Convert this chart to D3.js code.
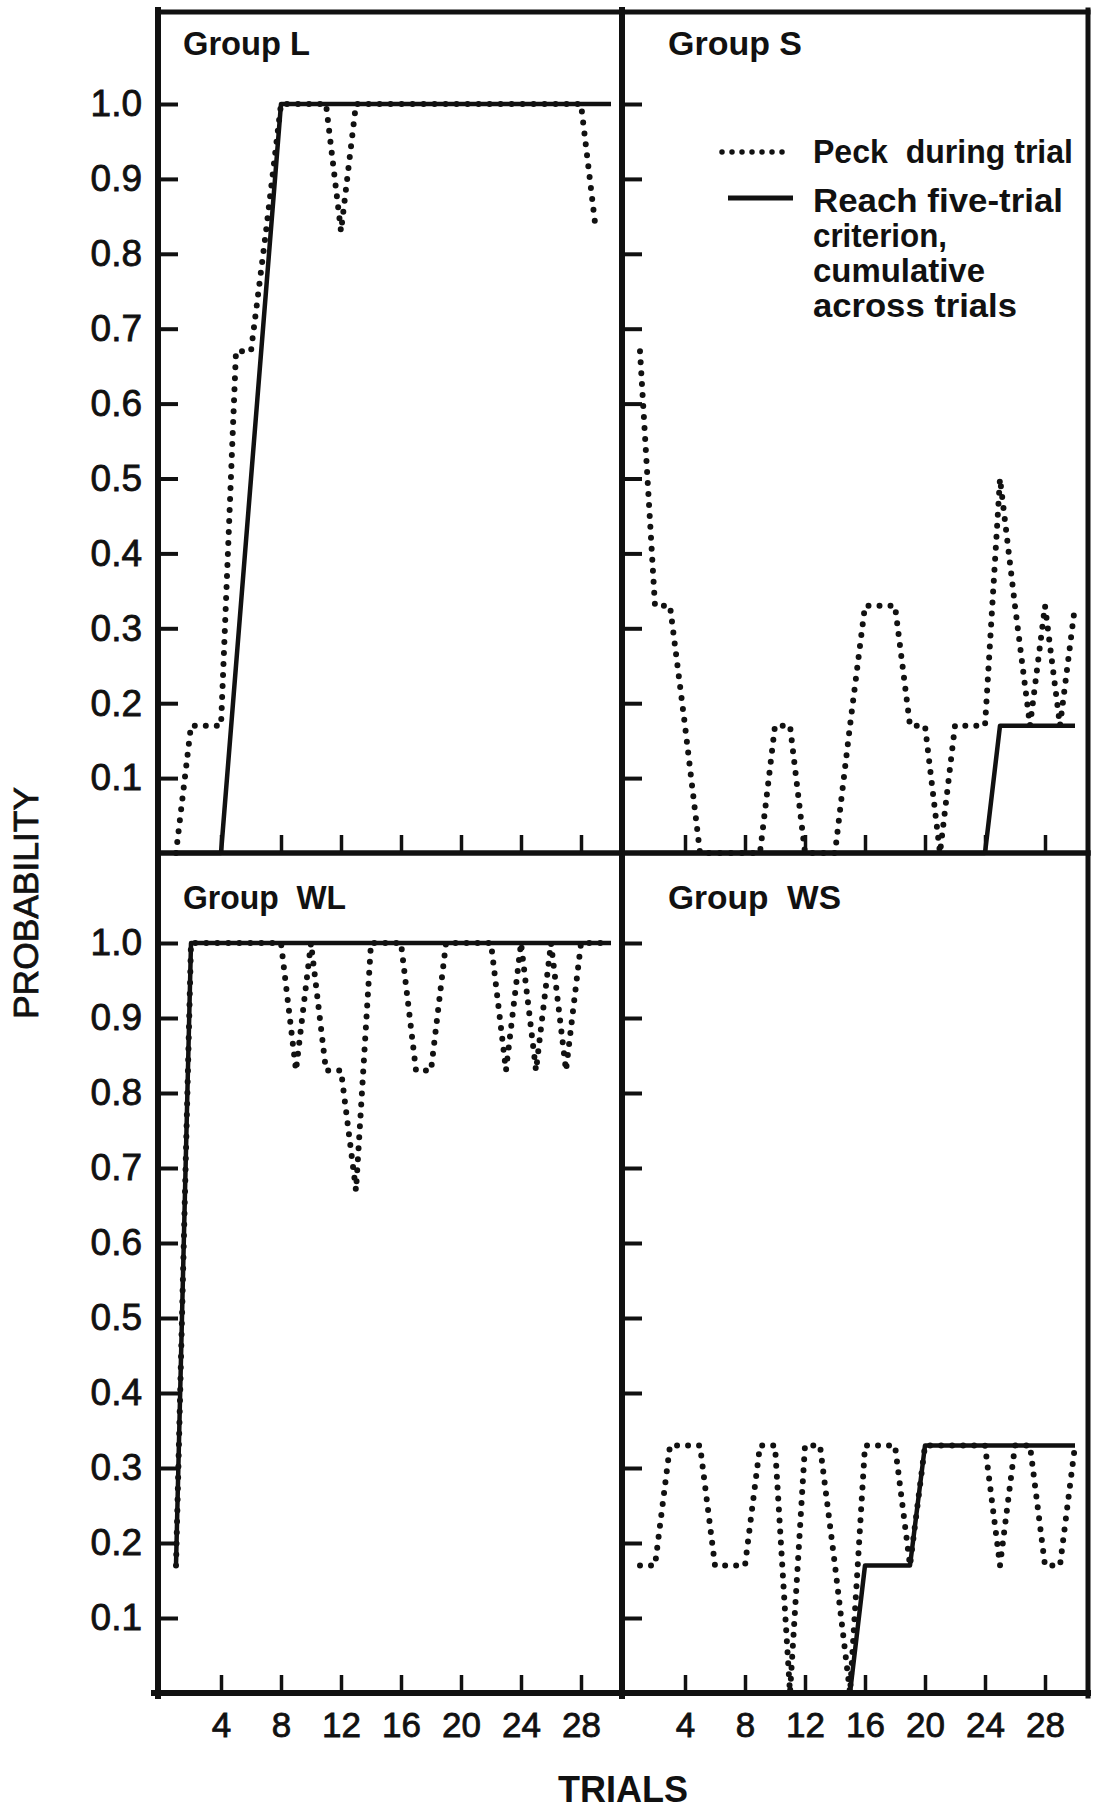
<!DOCTYPE html>
<html>
<head>
<meta charset="utf-8">
<script src="https://cdn.jsdelivr.net/npm/d3@7"></script>
<style>
  body { margin: 0; background: #fff; }
  svg { display: block; }
  text { font-family: "Liberation Sans", Arial, sans-serif; fill: #111; }
</style>
</head>
<body>
<script>
// Trials 1..30, probabilities (sixths of 6 birds).
const trials = d3.range(1, 31);

const peckL = [0, 0.17, 0.17, 0.17, 0.67, 0.67, 0.83, 1, 1, 1, 1, 0.83, 1, 1, 1,
               1, 1, 1, 1, 1, 1, 1, 1, 1, 1, 1, 1, 1, 0.83, null];
const critL = [0, 0, 0, 0, 0.25, 0.5, 0.75, 1, 1, 1, 1, 1, 1, 1, 1,
               1, 1, 1, 1, 1, 1, 1, 1, 1, 1, 1, 1, 1, 1, 1];

const peckS = [0.67, 0.33, 0.33, 0.17, 0, 0, 0, 0, 0, 0.17, 0.17, 0, 0, 0, 0.17,
               0.33, 0.33, 0.33, 0.17, 0.17, 0, 0.17, 0.17, 0.17, 0.5, 0.33, 0.17, 0.33, 0.17, 0.33];
const critS = [0, 0, 0, 0, 0, 0, 0, 0, 0, 0, 0, 0, 0, 0, 0,
               0, 0, 0, 0, 0, 0, 0, 0, 0, 0.17, 0.17, 0.17, 0.17, 0.17, 0.17];

const peckWL = [0.17, 1, 1, 1, 1, 1, 1, 1, 0.83, 1, 0.83, 0.83, 0.67, 1, 1,
                1, 0.83, 0.83, 1, 1, 1, 1, 0.83, 1, 0.83, 1, 0.83, 1, 1, 1];
const critWL = [0.17, 1, 1, 1, 1, 1, 1, 1, 1, 1, 1, 1, 1, 1, 1,
                1, 1, 1, 1, 1, 1, 1, 1, 1, 1, 1, 1, 1, 1, 1];

const peckWS = [0.17, 0.17, 0.33, 0.33, 0.33, 0.17, 0.17, 0.17, 0.33, 0.33, 0, 0.33, 0.33, 0.17, 0,
                0.33, 0.33, 0.33, 0.17, 0.33, 0.33, 0.33, 0.33, 0.33, 0.17, 0.33, 0.33, 0.17, 0.17, 0.33];
const critWS = [0, 0, 0, 0, 0, 0, 0, 0, 0, 0, 0, 0, 0, 0, 0,
                0.17, 0.17, 0.17, 0.17, 0.33, 0.33, 0.33, 0.33, 0.33, 0.33, 0.33, 0.33, 0.33, 0.33, 0.33];

const yTicks = [0.1, 0.2, 0.3, 0.4, 0.5, 0.6, 0.7, 0.8, 0.9, 1.0];
const xTicks = [4, 8, 12, 16, 20, 24, 28];

const groupNames = ["Group L", "Group S", "Group  WL", "Group  WS"];
const legendPeck = "Peck  during trial";
const legendCrit = ["Reach five-trial", "criterion,", "cumulative", "across trials"];

// Layout
const W = 1094, H = 1817;
const frame = {left: 158, mid: 622, right: 1088, top: 12, midY: 853, bottom: 1693};
const rows = [{zero: 853, one: 104, label: 55}, {zero: 1693, one: 943, label: 909}];
const cols = [frame.left, frame.mid];
const titleW = [127, 134, 163, 173];

const panels = [
  {peck: peckL, crit: critL, col: 0, row: 0},
  {peck: peckS, crit: critS, col: 1, row: 0},
  {peck: peckWL, crit: critWL, col: 0, row: 1},
  {peck: peckWS, crit: critWS, col: 1, row: 1}
];

const svg = d3.select("body").append("svg")
  .attr("width", W).attr("height", H);
svg.append("rect").attr("width", W).attr("height", H).attr("fill", "#fff");

panels.forEach((p, i) => {
  const x = d3.scaleLinear().domain([0, 30]).range([cols[p.col] + 3, cols[p.col] + 453]);
  const y = d3.scaleLinear().domain([0, 1]).range([rows[p.row].zero, rows[p.row].one]);
  const g = svg.append("g");

  // y ticks (inward), labels only on the left column
  const ya = g.append("g")
    .attr("transform", `translate(${cols[p.col]},0)`)
    .call(d3.axisLeft(y).tickValues(yTicks).tickSize(-20).tickPadding(16)
      .tickFormat(p.col === 0 ? d3.format(".1f") : () => ""));
  ya.select(".domain").remove();
  ya.selectAll("line").attr("stroke", "#111").attr("stroke-width", 4);
  ya.selectAll("text").attr("font-size", 37).attr("fill", "#111")
    .attr("stroke", "#111").attr("stroke-width", 0.8).attr("font-family", "Liberation Sans, Arial, sans-serif");

  // x ticks (inward), labels only on the bottom row
  const xa = g.append("g")
    .attr("transform", `translate(0,${rows[p.row].zero})`)
    .call(d3.axisBottom(x).tickValues(xTicks).tickSize(-18).tickPadding(19)
      .tickFormat(p.row === 1 ? d3.format("d") : () => ""));
  xa.select(".domain").remove();
  xa.selectAll("line").attr("stroke", "#111").attr("stroke-width", 3.5);
  xa.selectAll("text").attr("font-size", 35).attr("fill", "#111")
    .attr("stroke", "#111").attr("stroke-width", 0.8).attr("font-family", "Liberation Sans, Arial, sans-serif");

  const line = d3.line()
    .defined(d => d[1] !== null)
    .x(d => x(d[0]))
    .y(d => y(d[1]));

  g.append("path")
    .datum(trials.map((t, k) => [t, p.crit[k]]))
    .attr("d", line)
    .attr("fill", "none").attr("stroke", "#111").attr("stroke-width", 4.5)
    .attr("stroke-linejoin", "round");

  g.append("path")
    .datum(trials.map((t, k) => [t, p.peck[k]]))
    .attr("d", line)
    .attr("fill", "none").attr("stroke", "#111").attr("stroke-width", 6)
    .attr("stroke-dasharray", "0 11").attr("stroke-linecap", "round")
    .attr("stroke-linejoin", "round");

  // group title
  g.append("text")
    .attr("x", cols[p.col] + (p.col === 0 ? 25 : 46))
    .attr("y", rows[p.row].label)
    .attr("font-size", 33).attr("font-weight", "bold")
    .attr("textLength", titleW[i]).attr("lengthAdjust", "spacingAndGlyphs")
    .style("white-space", "pre")
    .text(groupNames[i]);
});

// Frame
const frameLines = [
  [frame.left, frame.top, frame.right, frame.top, 5],
  [frame.left, frame.midY, frame.right, frame.midY, 5.5],
  [frame.left - 4, frame.bottom, frame.right, frame.bottom, 6],
  [frame.left, frame.top - 2, frame.left, frame.bottom + 3, 6],
  [frame.mid, frame.top - 2, frame.mid, frame.bottom + 3, 6],
  [frame.right, frame.top - 2, frame.right, frame.bottom + 3, 5]
];
svg.append("g").selectAll("line").data(frameLines).join("line")
  .attr("x1", d => d[0]).attr("y1", d => d[1])
  .attr("x2", d => d[2]).attr("y2", d => d[3])
  .attr("stroke", "#111").attr("stroke-width", d => d[4])
  .attr("stroke-linecap", "square");

// Legend (in Group S panel)
const lg = svg.append("g");
lg.append("line").attr("x1", 722).attr("x2", 792).attr("y1", 152).attr("y2", 152)
  .attr("stroke", "#111").attr("stroke-width", 5.5)
  .attr("stroke-dasharray", "0 10").attr("stroke-linecap", "round");
lg.append("line").attr("x1", 728).attr("x2", 793).attr("y1", 198).attr("y2", 198)
  .attr("stroke", "#111").attr("stroke-width", 5);
lg.append("text").attr("x", 813).attr("y", 163)
  .attr("font-size", 33).attr("font-weight", "bold")
  .attr("textLength", 260).attr("lengthAdjust", "spacingAndGlyphs")
  .style("white-space", "pre").text(legendPeck);
const critW = [250, 134, 172, 204];
lg.selectAll("text.crit").data(legendCrit).join("text")
  .attr("class", "crit")
  .attr("x", 813).attr("y", (d, k) => 212 + k * 35)
  .attr("font-size", 33).attr("font-weight", "bold")
  .attr("textLength", (d, k) => critW[k]).attr("lengthAdjust", "spacingAndGlyphs")
  .text(d => d);

// Axis titles
svg.append("text")
  .attr("x", 623).attr("y", 1802)
  .attr("text-anchor", "middle")
  .attr("font-size", 37).attr("font-weight", "bold")
  .attr("textLength", 130).attr("lengthAdjust", "spacingAndGlyphs")
  .text("TRIALS");

svg.append("text")
  .attr("transform", "translate(38,903) rotate(-90)")
  .attr("text-anchor", "middle")
  .attr("font-size", 35)
  .attr("stroke", "#111").attr("stroke-width", 0.8)
  .attr("textLength", 232).attr("lengthAdjust", "spacingAndGlyphs")
  .text("PROBABILITY");
</script>
</body>
</html>
